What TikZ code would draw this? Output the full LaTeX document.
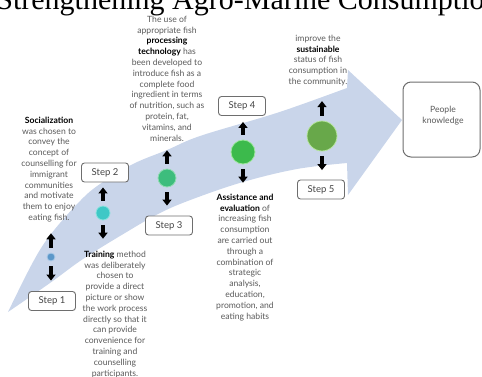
\documentclass[tikz,border=0pt]{standalone}
\usepackage{fontspec}
\setmainfont{Lato}
\newfontfamily\titlefont{Liberation Serif}
\usepackage{xcolor}
\usetikzlibrary{arrows.meta,positioning}

\definecolor{bandblue}{HTML}{C9D5EA}
\definecolor{txtgray}{HTML}{5A5A5A}
\definecolor{boxgray}{HTML}{6E6E6E}
\definecolor{steptxt}{HTML}{454545}
\definecolor{dotA}{HTML}{5B97C9}
\definecolor{dotArim}{HTML}{A9C8E6}
\definecolor{dotB}{HTML}{3EC8C6}
\definecolor{dotBrim}{HTML}{8BE2DE}
\definecolor{dotC}{HTML}{3DBD7D}
\definecolor{dotCrim}{HTML}{92DCB2}
\definecolor{dotD}{HTML}{3CBA4C}
\definecolor{dotDrim}{HTML}{9DE69D}
\definecolor{dotE}{HTML}{68A84A}
\definecolor{dotErim}{HTML}{B6E59E}

\begin{document}
\begin{tikzpicture}[x=1pt,y=-1pt,
    stepbox/.style={rectangle,draw=boxgray,line width=0.9pt,rounded corners=3pt,fill=white,
      minimum width=47pt,minimum height=19pt,inner sep=0pt,
      font=\fontsize{9.5}{11}\selectfont,text=steptxt},
    notetext/.style={align=center,inner sep=0pt,font=\fontsize{8.6}{10.8}\selectfont,text=txtgray},
    stepdot/.style={circle,inner sep=0pt,line width=0.8pt},
    blkarrow/.style={-{Triangle[width=9pt,length=6pt]},line width=3.6pt,shorten <=5pt}]
  \useasboundingbox (0,0) rectangle (482,376);

  % Title
  \node[anchor=base,inner sep=0pt,font=\titlefont\fontsize{30}{36}\selectfont] (title) at (248,9)
    {Strengthening Agro-Marine Consumption};

  % Curved band with arrow head
  \fill[bandblue] plot[smooth,tension=0.6] coordinates {(8,312) (33,262) (51,234) (80,201)
      (100,184) (133,164) (167,150) (200,136) (267,116) (300,105) (347,88)}
    -- (348,70) -- (402,120) -- (348,195) -- (347,163)
    -- plot[smooth,tension=0.6] coordinates {(347,163) (297,169) (243,182) (193,199)
      (160,213) (125,233) (83,259) (50,283) (8,312)} -- cycle;

  % Steps
  \node[stepdot,fill=dotA,draw=dotArim,minimum size=8pt] (dot1) at (51,257) {};
  \node[stepdot,fill=dotB,draw=dotBrim,minimum size=14pt] (dot2) at (103,213) {};
  \node[stepdot,fill=dotC,draw=dotCrim,minimum size=18pt] (dot3) at (167,178) {};
  \node[stepdot,fill=dotD,draw=dotDrim,minimum size=24pt] (dot4) at (243,152) {};
  \node[stepdot,fill=dotE,draw=dotErim,minimum size=30pt] (dot5) at (322,136) {};

  \node[stepbox] (box1) at (52,301) {Step 1};
  \node[stepbox] (box2) at (105,172.5) {Step 2};
  \node[stepbox] (box3) at (169,225.5) {Step 3};
  \node[stepbox] (box4) at (242,106) {Step 4};
  \node[stepbox] (box5) at (321,189.5) {Step 5};

  % Descriptions
  \node[notetext,anchor=north] (txt1) at (49,116.7) {\textbf{\color{black}Socialization}\\
    was chosen to\\ convey the\\ concept of\\ counselling for\\ immigrant\\ communities\\
    and motivate\\ them to enjoy\\ eating fish.};
  \node[notetext,anchor=north] (txt2) at (115,250.7) {\textbf{\color{black}Training} method\\
    was deliberately\\ chosen to\\ provide a direct\\ picture or show\\ the work process\\
    directly so that it\\ can provide\\ convenience for\\ training and\\ counselling\\ participants.};
  \node[notetext,anchor=north] (txt3) at (167,15.7) {The use of\\ appropriate fish\\
    \textbf{\color{black}processing}\\ \textbf{\color{black}technology} has\\ been developed to\\
    introduce fish as a\\ complete food\\ ingredient in terms\\ of nutrition, such as\\
    protein, fat,\\ vitamins, and\\ minerals.};
  \node[notetext,anchor=north] (txt4) at (245,193.7) {\textbf{\color{black}Assistance and}\\
    \textbf{\color{black}evaluation} of\\ increasing fish\\ consumption\\ are carried out\\
    through a\\ combination of\\ strategic\\ analysis,\\ education,\\ promotion, and\\ eating habits};
  \node[notetext,anchor=north] (txt5) at (318,34.7) {improve the\\ \textbf{\color{black}sustainable}\\
    status of fish\\ consumption in\\ the community.};

  % Goal
  \node[rectangle,draw=boxgray,line width=1pt,rounded corners=8pt,fill=white,
    minimum width=77pt,minimum height=75pt] (know) at (441.5,119.5) {};
  \node[notetext,anchor=north] (knowtxt) at (443,105.7) {People\\ knowledge};

  % Arrows
  \draw[blkarrow,shorten >=11pt] (dot1.north) -- (dot1.north |- txt1.south);
  \draw[blkarrow,shorten >=10.5pt] (dot1.south) -- (dot1.south |- box1.north);
  \draw[blkarrow,shorten >=5pt] (dot2.north) -- (dot2.north |- box2.south);
  \draw[blkarrow,shorten >=12pt] (dot2.south) -- (dot2.south |- txt2.north);
  \draw[blkarrow,shorten >=9pt] (dot3.north) -- (dot3.north |- txt3.south);
  \draw[blkarrow,shorten >=10pt] (dot3.south) -- (dot3.south |- box3.north);
  \draw[blkarrow,shorten >=6pt] (dot4.north) -- (dot4.north |- box4.south);
  \draw[blkarrow,shorten >=11pt] (dot4.south) -- (dot4.south |- txt4.north);
  \draw[blkarrow,shorten >=15pt] (dot5.north) -- (dot5.north |- txt5.south);
  \draw[blkarrow,shorten >=9.5pt] (dot5.south) -- (dot5.south |- box5.north);
\end{tikzpicture}
\end{document}
